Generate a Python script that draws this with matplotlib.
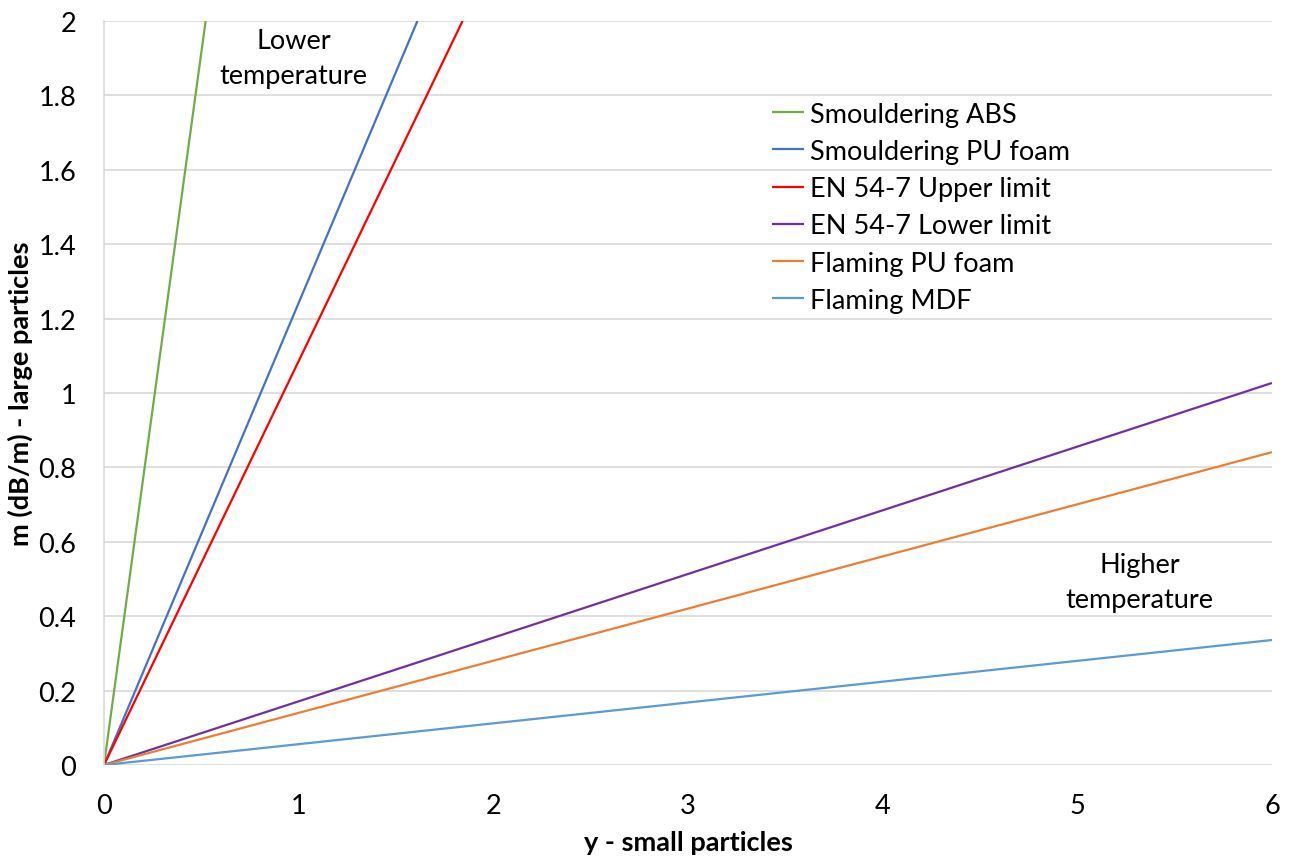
import matplotlib
matplotlib.use("Agg")
import matplotlib.pyplot as plt

series_names = ["Smouldering ABS", "Smouldering PU foam", "EN 54-7 Upper limit",
                "EN 54-7 Lower limit", "Flaming PU foam", "Flaming MDF"]
x_start = [0, 0, 0, 0, 0, 0]
y_start = [0, 0, 0, 0, 0, 0]
x_end = [0.522, 1.610, 1.842, 6.0, 6.0, 6.0]
y_end = [2.0, 2.0, 2.0, 1.027, 0.841, 0.336]
colors = ["#70AD47", "#4472C4", "#FF0000", "#7030A0", "#ED7D31", "#5B9BD5"]
x_ticks = [0, 1, 2, 3, 4, 5, 6]
y_ticks = [0, 0.2, 0.4, 0.6, 0.8, 1.0, 1.2, 1.4, 1.6, 1.8, 2.0]
y_tick_labels = ["0", "0.2", "0.4", "0.6", "0.8", "1", "1.2", "1.4", "1.6", "1.8", "2"]

plt.rcParams['font.family'] = ['Lato', 'DejaVu Sans']
FS = 19.5

fig = plt.figure(figsize=(13, 8.62), dpi=100)
ax = fig.add_axes([104/1300, 1-766/862, (1272-104)/1300, (766-22)/862])

for name, xs, ys, xe, ye, c in zip(series_names, x_start, y_start, x_end, y_end, colors):
    ax.plot([xs, xe], [ys, ye], color=c, lw=1.6, label=name, solid_capstyle='butt')

ax.set_xlim(0, 6)
ax.set_ylim(0, 2)
ax.set_xticks(x_ticks)
ax.set_xticklabels([str(t) for t in x_ticks])
ax.set_yticks(y_ticks)
ax.set_yticklabels(y_tick_labels)
ax.grid(axis='y', color='#D9D9D9', lw=1.2)
ax.set_axisbelow(True)
for s in ['top', 'right', 'bottom']:
    ax.spines[s].set_visible(False)
ax.spines['left'].set_color('#D9D9D9')
ax.spines['left'].set_linewidth(1.2)
ax.tick_params(axis='both', length=0, labelsize=FS)
ax.tick_params(axis='x', pad=20)
ax.tick_params(axis='y', pad=20)

ax.set_xlabel("y - small particles", fontsize=FS, fontweight='bold')
ax.set_ylabel("m (dB/m) - large particles", fontsize=FS, fontweight='bold')
ax.xaxis.set_label_coords(0.5, (766 - 843) / 744, transform=ax.transAxes)
ax.yaxis.set_label_coords((20 - 104) / 1168, 0.5, transform=ax.transAxes)
ax.xaxis.label.set_va('center')
ax.yaxis.label.set_va('center')

ax.text(0.975, 1.90, "Lower\ntemperature", ha='center', va='center', fontsize=FS,
        linespacing=1.5)
ax.text(5.32, 0.492, "Higher\ntemperature", ha='center', va='center', fontsize=FS,
        linespacing=1.5)

leg = ax.legend(loc='upper left', bbox_to_anchor=(0.5625, 0.906), frameon=False,
                fontsize=FS, handlelength=1.2, handletextpad=0.2, labelspacing=0.45,
                borderaxespad=0)

fig.savefig("out.png", dpi=100, facecolor='white')
